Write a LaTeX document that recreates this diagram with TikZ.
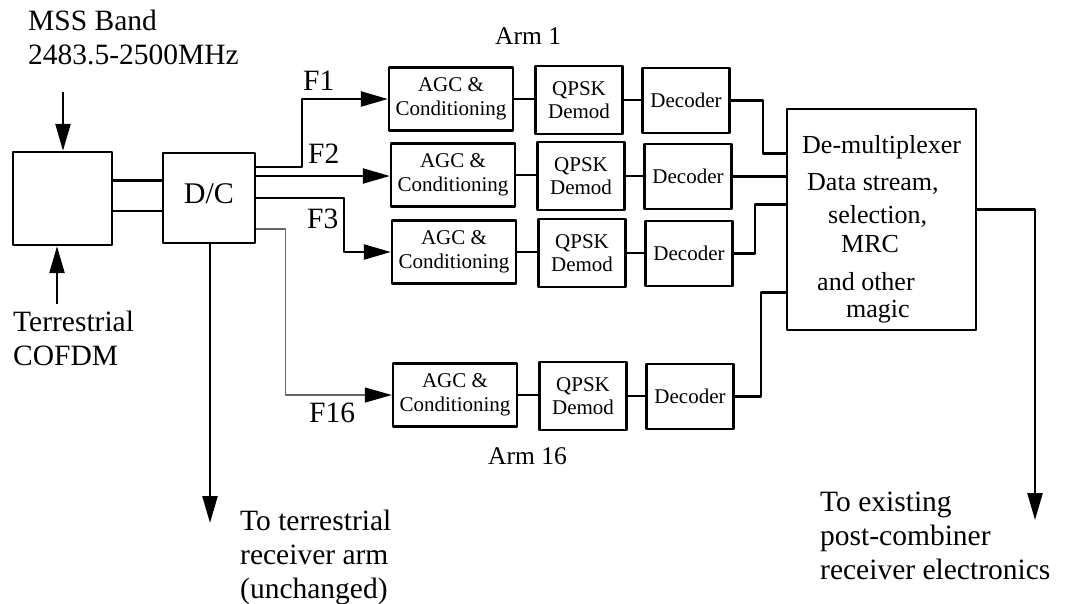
\documentclass[tikz,border=0pt]{standalone}
\usepackage{fontspec}
\setmainfont{Liberation Serif}
\usetikzlibrary{arrows.meta}
\tikzset{
  blk/.style={draw, line width=2.4pt, inner sep=0pt, align=center,
    font=\fontsize{21}{23.5}\selectfont},
  sig/.style={line width=2.4pt},
  arr/.style={sig, -{Triangle[length=27pt,width=15pt]}},
  thinarr/.style={line width=1.2pt, black!60, -{Triangle[length=27pt,width=15pt,color=black]}},
  lbl/.style={inner sep=0pt, font=\fontsize{29.5}{34}\selectfont},
  armlbl/.style={inner sep=0pt, anchor=base west, font=\fontsize{25.5}{30}\selectfont},
}
\begin{document}
\begin{tikzpicture}[x=1pt, y=-1pt, line join=round]
  \useasboundingbox (0,0) rectangle (1065,603);
  % front end and down-converter
  \node[blk, minimum width=99pt, minimum height=93pt] (ant) at (62.5,198.5) {};
  \node[blk, minimum width=92pt, minimum height=90pt, text height=10pt, text depth=0pt,
    font=\fontsize{30}{34}\selectfont] (dc) at (209,198) {D/C};
  \coordinate (mssin) at (63,92);
  \coordinate (terin) at (57,304);
  \draw[arr] (mssin) -- (mssin |- ant.north);
  \draw[arr] (terin) -- (terin |- ant.south);
  \draw[sig] ([yshift=18pt]ant.east) -- ([yshift=18pt]ant.east -| dc.west);
  \draw[sig] ([yshift=-12.5pt]ant.east) -- ([yshift=-12.5pt]ant.east -| dc.west);
  \node[lbl, anchor=north west, align=left] (mss) at (28,10) {MSS Band\\2483.5-2500MHz};
  \node[lbl, anchor=north west, align=left] (ter) at (13,311) {Terrestrial\\COFDM};
  % the arms
  \foreach \r/\y/\dx in {1/99/0, 2/175/2, 3/252/3, 16/395/4} {
    \node[blk, minimum width=124pt, minimum height=63pt] (agc\r) at (451+\dx,\y) {AGC \&\\Conditioning};
    \node[blk, minimum width=87pt, minimum height=68pt] (qpsk\r) at (579+\dx,\y+1) {QPSK\\Demod};
    \node[blk, minimum width=87pt, minimum height=65pt] (dec\r) at (686+\dx,\y+1.5) {Decoder};
    \draw[sig] (agc\r.east) -- (agc\r.east -| qpsk\r.west);
    \draw[sig] (qpsk\r.east) -- (qpsk\r.east -| dec\r.west);
  }
  \node[armlbl] (arm1) at (495,44) {Arm 1};
  \node[armlbl] (arm16) at (488,464) {Arm 16};
  % feeds from the D/C
  \draw[arr] ([yshift=31pt]dc.east) -- ++(46,0) |- (agc1.west);
  \draw[arr] ([yshift=22pt]dc.east) -- ([yshift=22pt]dc.east -| agc2.west);
  \draw[arr] (dc.east) -- ++(88,0) |- (agc3.west);
  \draw[thinarr] ([yshift=-31pt]dc.east) -- ++(29,0) |- (agc16.west);
  \node[lbl, anchor=base west] (f1) at (303,90) {F1};
  \node[lbl, anchor=base west] (f2) at (308,163) {F2};
  \node[lbl, anchor=base west] (f3) at (307,228) {F3};
  \node[lbl, anchor=base west] (f16) at (309,422) {F16};
  % combiner
  \node[draw, line width=2.4pt, minimum width=189pt, minimum height=221pt] (demux) at (881.5,219.5) {};
  \foreach \x/\y/\t [count=\i] in {802/153/De-multiplexer, 807/190/{Data stream,},
      828/223/{selection,}, 841/252/MRC, 817/290/and other, 846/317/magic}
    \node[inner sep=0pt, anchor=base west, font=\fontsize{26}{30}\selectfont] (dm\i) at (\x,\y) {\t};
  \draw[sig] (dec1.east) -- ++(32,0) |- ([yshift=66pt]demux.west);
  \draw[sig] (dec2.east) -- (dec2.east -| demux.west);
  \draw[sig] (dec3.east) -- ++(21,0) |- ([yshift=15pt]demux.west);
  \draw[sig] (dec16.east) -- ++(26,0) |- ([yshift=-73pt]demux.west);
  % outputs
  \coordinate (terout) at (210,523);
  \coordinate (postout) at (1035,520);
  \draw[arr] (dc.south -| terout) -- (terout);
  \draw[arr] ([yshift=10pt]demux.east) -| (postout);
  \node[lbl, anchor=north west, align=left] (tout) at (240,509.5) {To terrestrial\\receiver arm\\(unchanged)};
  \node[lbl, anchor=north west, align=left] (pout) at (820,492) {To existing\\post-combiner\\receiver electronics};
\end{tikzpicture}
\end{document}
